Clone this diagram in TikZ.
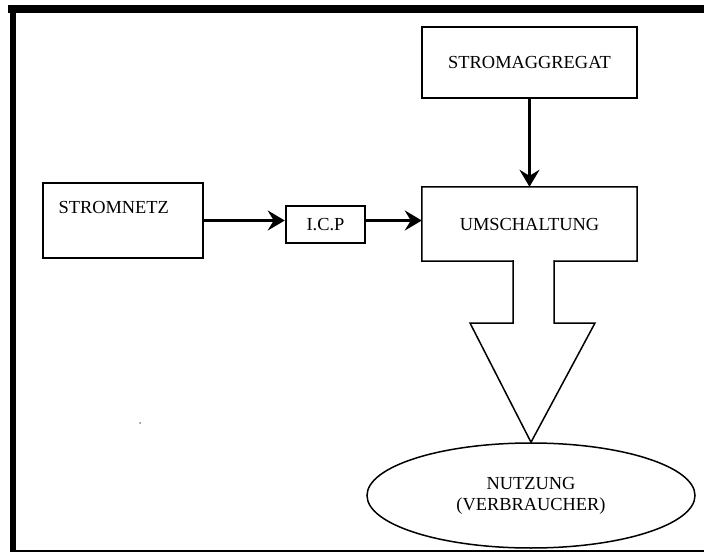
\documentclass[tikz,border=0pt]{standalone}
\usepackage{fontspec}
\setmainfont{Liberation Serif}
\usepackage{tikz}
\usetikzlibrary{arrows.meta,shapes.geometric}

\begin{document}
\begin{tikzpicture}[x=1pt,y=-1pt,
        > = {Stealth[length=17pt,width=20pt,inset=6pt]},
        every node/.style={font=\fontsize{18.4}{21}\selectfont},
        block/.style={draw,line width=1.5pt,inner sep=0pt},
        flow/.style={->,line width=3pt}]
            \useasboundingbox (0,0) rectangle (704,553);
            % frame
            \fill[black] (8,5) rectangle (704,13);
            \fill[black] (10,5) rectangle (16,552);
            \draw[line width=2pt] (10,551) -- (704,551);
            \fill[gray] (140,423) circle (1);
            % blocks
            \node[block,minimum width=215pt,minimum height=71pt] (agg) at (529.5,62.5) {STROMAGGREGAT};
            \node[block,minimum width=160pt,minimum height=75pt] (netz) at (123,220.5) {};
            \node[anchor=west] (netztext) at (55,207) {STROMNETZ};
            \node[block,line width=2.5pt,minimum width=79pt,minimum height=37pt] (icp) at (325.5,224.5) {I.C.P};
            \node[inner sep=0pt,minimum width=215pt,minimum height=74pt] (umsch) at (529.5,224) {UMSCHALTUNG};
            \node[ellipse,draw,line width=1.5pt,minimum width=328pt,minimum height=105pt,align=center] (nutz) at (531,495.5) {NUTZUNG\\(VERBRAUCHER)};
            % box with block arrow
            \draw[line width=1.5pt,line join=miter] (umsch.north west) -- (umsch.north east) -- (umsch.south east)
                -- (554,261) -- (554,323) -- (595,323) -- (nutz.north) -- (470,323) -- (513,323) -- (513,261)
                -- (umsch.south west) -- cycle;
            % connectors
            \draw[flow] (agg.south) -- (umsch.north);
            \draw[flow] (netz.east) -- (icp.west |- netz.east);
            \draw[flow] (icp.east |- netz.east) -- (umsch.west |- netz.east);
        \end{tikzpicture}
\end{document}
